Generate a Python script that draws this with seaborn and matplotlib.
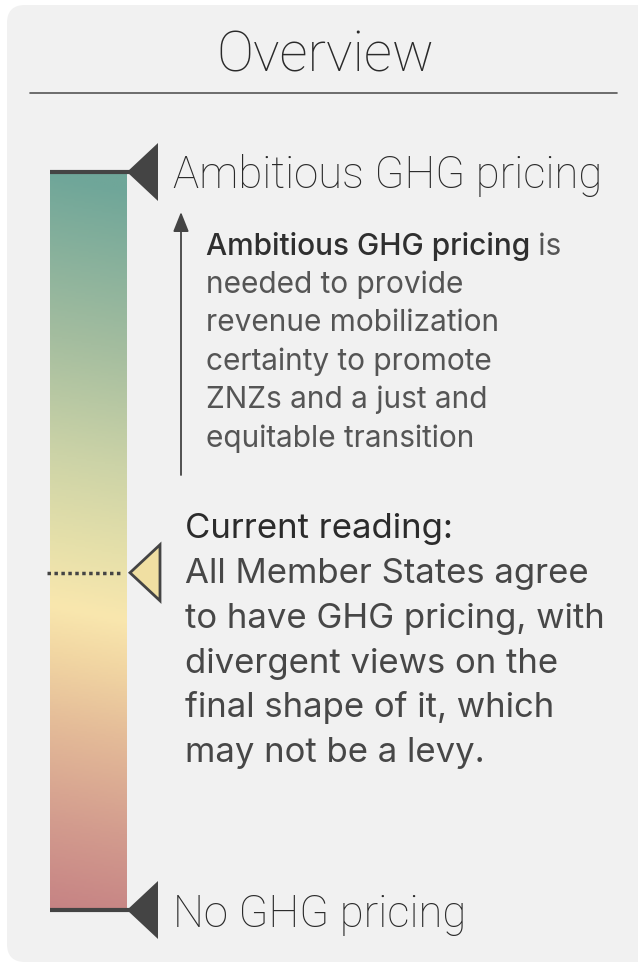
import numpy as np
import matplotlib
matplotlib.use("Agg")
import matplotlib.pyplot as plt
import seaborn as sns
from matplotlib.colors import LinearSegmentedColormap
from matplotlib.patches import FancyBboxPatch, Polygon

# scale: 0 = no GHG pricing, 1 = ambitious GHG pricing
scale_stops = [0.0, 0.12, 0.25, 0.35, 0.413, 0.5, 0.62, 0.78, 1.0]
scale_colors = ["#c68384", "#d39c8e", "#e4bb98", "#f2d7a3", "#f9e7ae",
                "#e6e0aa", "#ccd3a7", "#a4bd9f", "#6fa699"]
current_reading = 0.457

title = "Overview"
top_label = "Ambitious GHG pricing"
bottom_label = "No GHG pricing"
note_bold = "Ambitious GHG pricing"
note_rest = " is"
note_lines = ["needed to provide", "revenue mobilization", "certainty to promote",
              "ZNZs and a just and", "equitable transition"]
reading_head = "Current reading:"
reading_lines = ["All Member States agree", "to have GHG pricing, with",
                 "divergent views on the", "final shape of it, which",
                 "may not be a levy."]

sns.set_theme(style="white")
plt.rcParams["font.family"] = ["Roboto", "DejaVu Sans"]

W, H = 638, 968
fig = plt.figure(figsize=(W / 100, H / 100), dpi=100)
fig.patch.set_facecolor("white")
ax = fig.add_axes([0, 0, 1, 1])
ax.set_xlim(0, W)
ax.set_ylim(H, 0)
ax.axis("off")

dark = "#444444"

# panel background
ax.add_patch(FancyBboxPatch((7, 5), 660, 957, boxstyle="round,pad=0,rounding_size=18",
                            fc="#f1f1f1", ec="none"))

ax.text(325, 72, title, ha="center", va="baseline", fontsize=40, color="#2a2a2a",
        fontweight="light")
ax.plot([30, 617], [93, 93], color="#555555", lw=1.2)

# gradient scale bar
bar_x0, bar_x1, bar_top, bar_bot = 50, 127, 172, 910
cmap = LinearSegmentedColormap.from_list("scale", list(zip(scale_stops, scale_colors)))
yy = np.linspace(1, 0, 400)[:, None]
xx = np.linspace(0, 1, 40)[None, :]
grad = np.clip(yy + 0.02 * xx, 0, 1)
ax.imshow(grad, cmap=cmap, vmin=0, vmax=1, extent=[bar_x0, bar_x1, bar_bot, bar_top],
          aspect="auto", interpolation="bilinear", zorder=2)


def y_of(v):
    return bar_bot - v * (bar_bot - bar_top)


# end markers
for v, lab, base in [(1.0, top_label, 188), (0.0, bottom_label, 927)]:
    y = y_of(v)
    ax.plot([bar_x0, 130], [y, y], color=dark, lw=3, solid_capstyle="butt", zorder=3)
    ax.add_patch(Polygon([[127, y], [158, y - 29], [158, y + 29]], closed=True,
                         fc=dark, ec="none", zorder=4))
    ax.text(173, base, lab, ha="left", va="baseline", fontsize=31.5, color="#2a2a2a",
            fontweight="light", zorder=5)

# arrow up
ax.annotate("", xy=(181, 212), xytext=(181, 475),
            arrowprops=dict(arrowstyle="-|>,head_length=1.0,head_width=0.4", color=dark, lw=1.3,
                            shrinkA=0, shrinkB=0))

# note text
fig.canvas.draw()
r = fig.canvas.get_renderer()
t = ax.text(206, 255, note_bold, ha="left", va="baseline", fontsize=21.5, color="#2f2f2f",
            family="Inter", fontweight="medium")
bb = t.get_window_extent(renderer=r)
ax.text(bb.x1, 255, note_rest, ha="left", va="baseline", fontsize=21.5, color="#555555",
        family="Inter", fontweight="regular")
for i, line in enumerate(note_lines):
    ax.text(206, 293 + i * 38.4, line, ha="left", va="baseline", fontsize=21.5,
            color="#555555", family="Inter", fontweight="regular")

# current reading marker
yc = y_of(current_reading)
ax.plot([47, 122], [yc, yc], color=dark, lw=2.5, ls=(0, (1, 1)), zorder=3)
ax.add_patch(Polygon([[130, yc], [160, yc - 28], [160, yc + 28]], closed=True,
                     fc="#f0dfa2", ec=dark, lw=2, joinstyle="miter", zorder=4))

ax.text(185, 538, reading_head, ha="left", va="baseline", fontsize=25, color="#2b2b2b",
        family="Inter", fontweight="regular")
for i, line in enumerate(reading_lines):
    ax.text(185, 583 + i * 44.8, line, ha="left", va="baseline", fontsize=25,
            color="#474747", family="Inter", fontweight="regular")

fig.savefig("out.png", dpi=100, facecolor="white")
